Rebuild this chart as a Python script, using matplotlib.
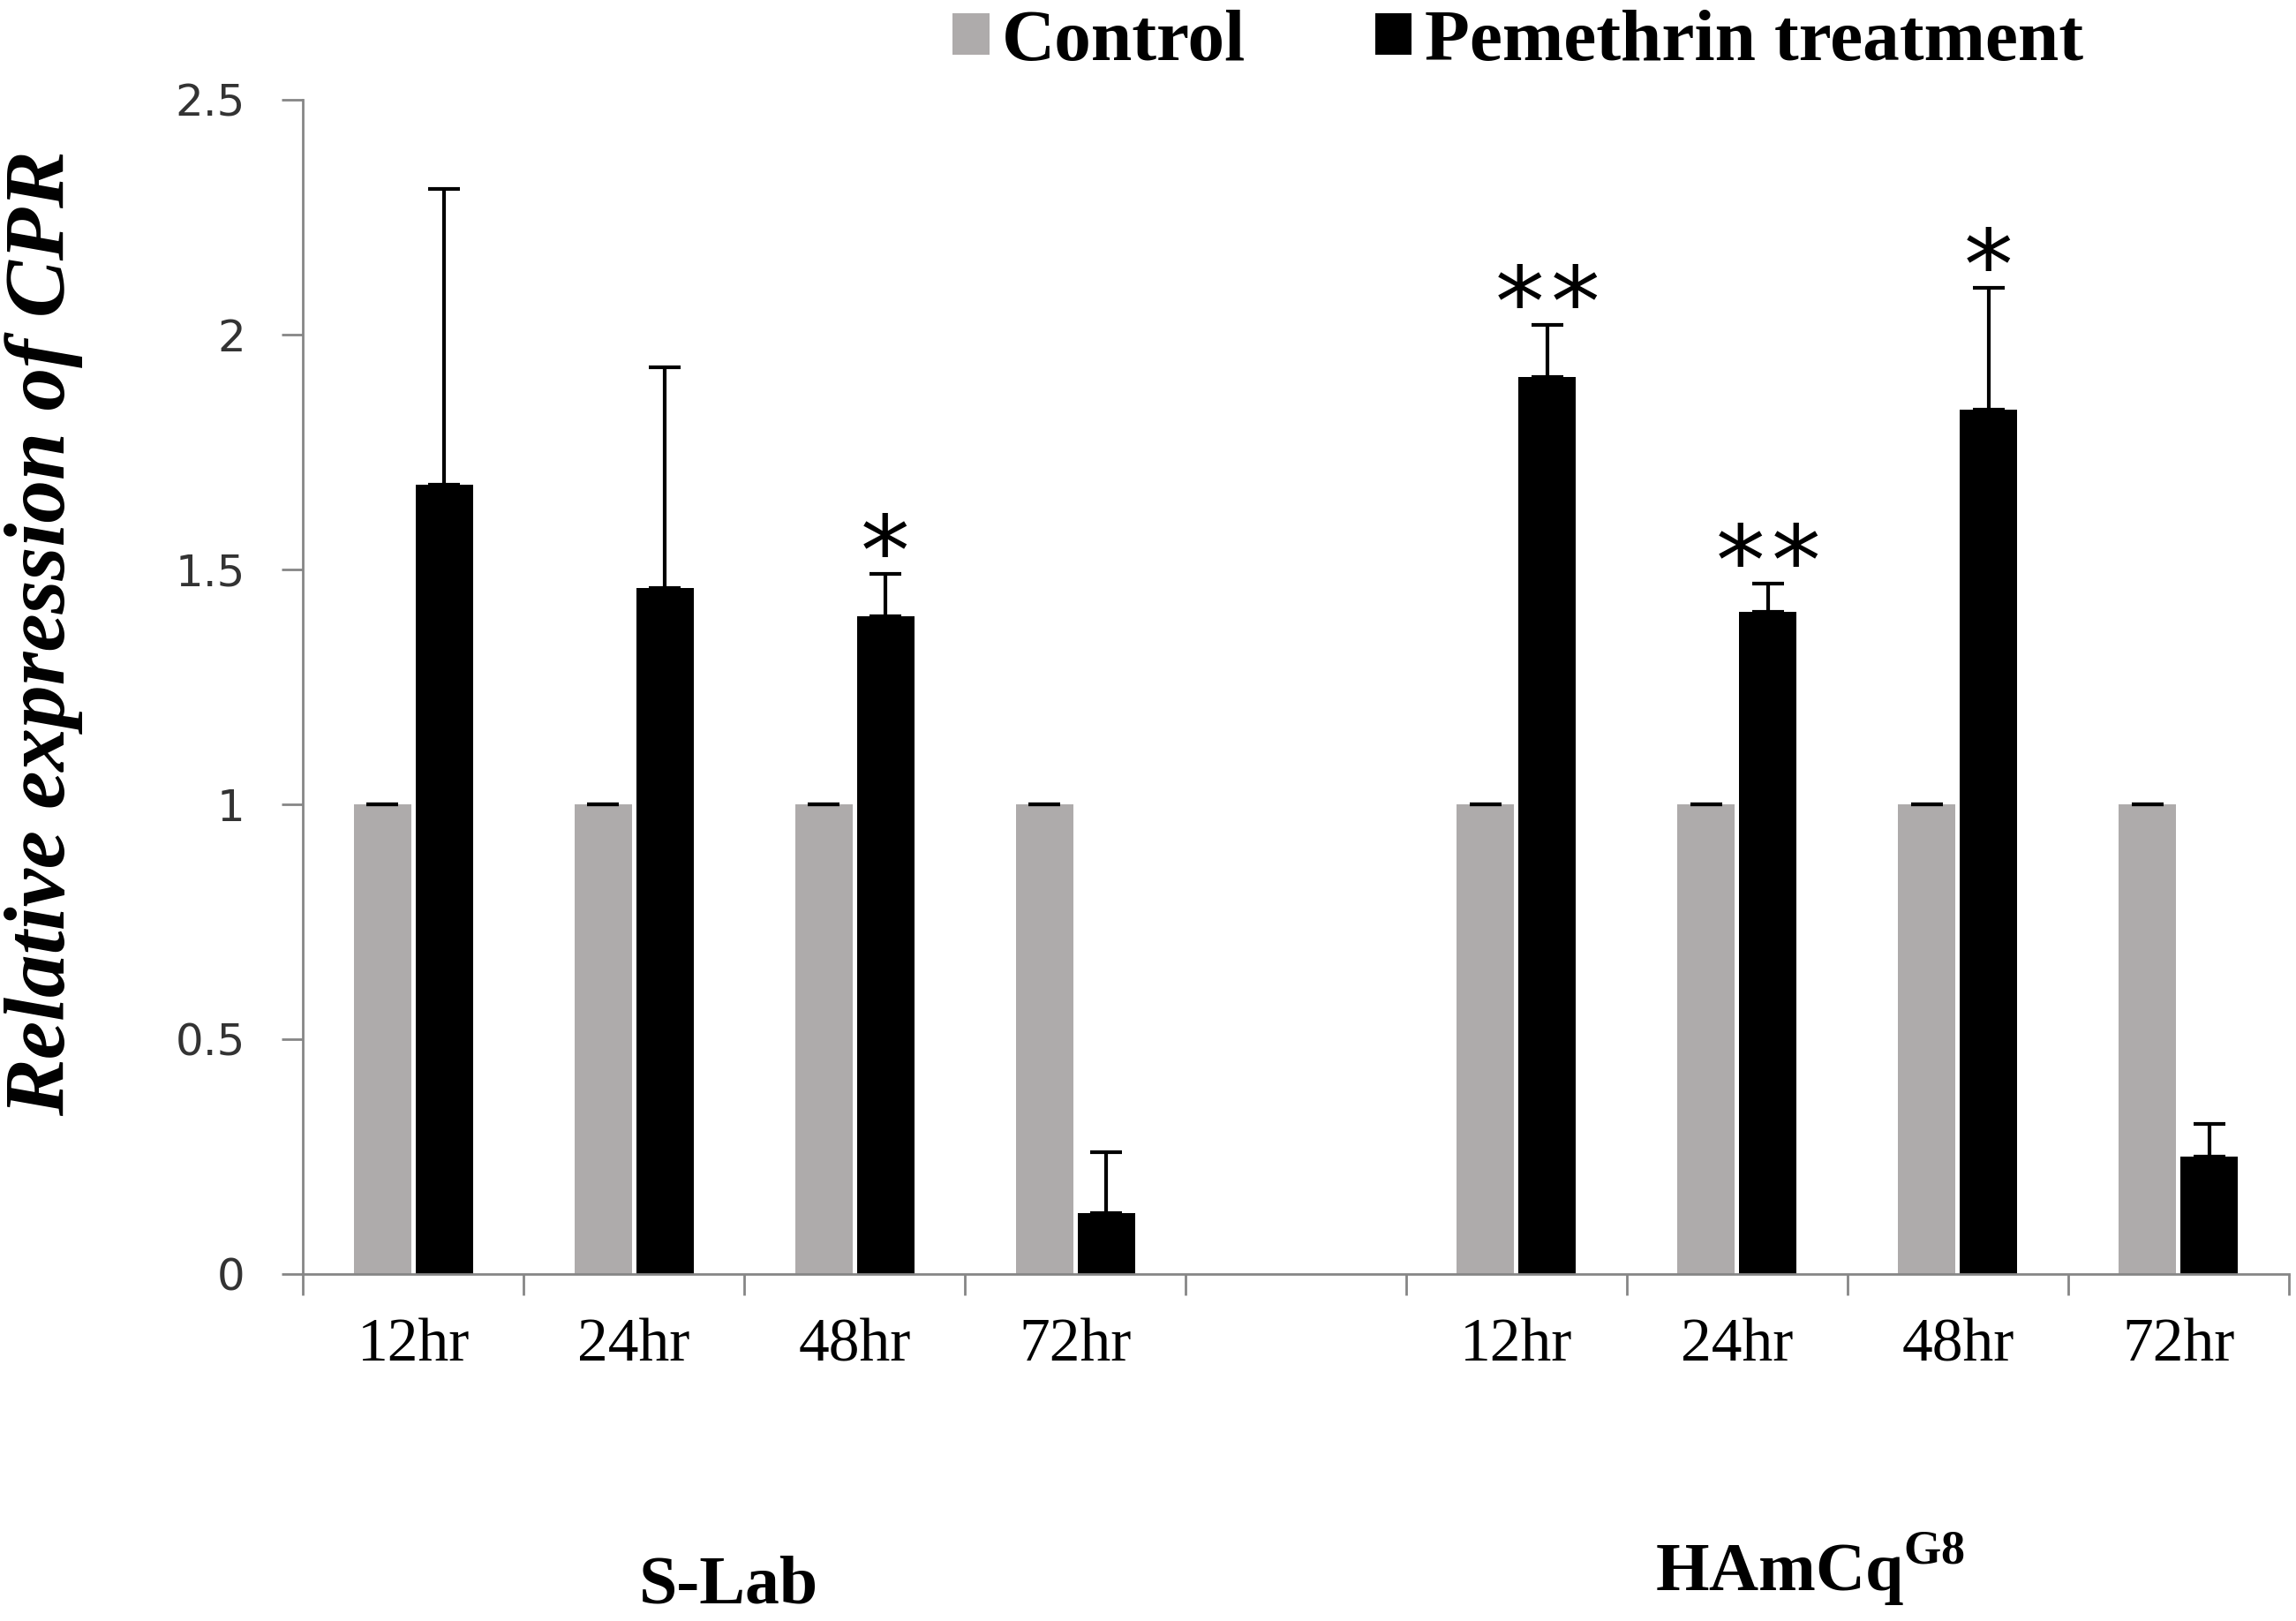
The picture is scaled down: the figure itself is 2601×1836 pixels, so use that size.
import numpy as np
import matplotlib
matplotlib.use("Agg")
import matplotlib.pyplot as plt
import matplotlib.transforms as mtransforms

# dati
timepoints = ['12hr', '24hr', '48hr', '72hr']
groups = ['S-Lab', r'HAmCq$^{\mathbf{G8}}$']
control_slab = [1.0, 1.0, 1.0, 1.0]
treat_slab = [1.68, 1.46, 1.40, 0.13]
treat_slab_err = [0.63, 0.47, 0.09, 0.13]
control_ham = [1.0, 1.0, 1.0, 1.0]
treat_ham = [1.91, 1.41, 1.84, 0.25]
treat_ham_err = [0.11, 0.06, 0.26, 0.07]
sig_slab = ['', '', '*', '']
sig_ham = ['**', '**', '*', '']

plt.rcParams['mathtext.fontset'] = 'custom'
plt.rcParams['mathtext.bf'] = 'Liberation Serif:bold'
plt.rcParams['mathtext.rm'] = 'Liberation Serif'

# posizioni: 4 + vuoto + 4
pos = np.array(list(range(4)) + list(range(5, 9)))
control = control_slab + control_ham
treat = treat_slab + treat_ham
treat_err = treat_slab_err + treat_ham_err
sig = sig_slab + sig_ham
labels = timepoints + timepoints

fig = plt.figure(figsize=(26.01, 18.36), dpi=100)
ax = fig.add_axes([0.1319, 0.2141, 0.865, 0.7244])

w = 0.26
off = 0.14
err_kw = dict(ecolor='black', elinewidth=3.0, capsize=13, capthick=3.0)
b1 = ax.bar(pos - off, control, w, color='#aeabab', label='Control',
            yerr=[0] * len(control), error_kw=err_kw)
b2 = ax.bar(pos + off, treat, w, color='black', label='Pemethrin treatment',
            yerr=[[0] * len(treat), treat_err], error_kw=err_kw)

# asterischi di significatività, uno per uno
for x, v, e, s in zip(pos, treat, treat_err, sig):
    n = len(s)
    for i in range(n):
        dx = (i - (n - 1) / 2) * 45
        ax.annotate('*', (x + off, v + e), xytext=(dx, -26), textcoords='offset points',
                    ha='center', va='bottom', fontsize=80, family='DejaVu Sans')

ax.set_xlim(-0.5, 8.5)
ax.set_ylim(0, 2.5)
ax.set_yticks([0, 0.5, 1, 1.5, 2, 2.5])
ax.set_yticklabels(['0', '0.5', '1', '1.5', '2', '2.5'])

ax.set_xticks(np.arange(-0.5, 9, 1))
ax.set_xticklabels([])
ax.set_xticks(pos, minor=True)
ax.set_xticklabels(labels, minor=True, fontsize=50, family='Liberation Serif')
ax.tick_params(axis='x', which='major', length=17, width=2, color='#868686')
ax.tick_params(axis='x', which='minor', length=0, pad=36)
ax.tick_params(axis='y', length=17, width=2, color='#868686', pad=30,
               labelsize=36, labelcolor='#333333')

for s in ['top', 'right']:
    ax.spines[s].set_visible(False)
for s in ['left', 'bottom']:
    ax.spines[s].set_color('#868686')
    ax.spines[s].set_linewidth(2)

fig.text(50 / 2601, 1 - 717 / 1836, 'Relative expression of CPR', rotation=90,
         ha='center', va='center', fontsize=70, family='Liberation Serif',
         fontweight='bold', fontstyle='italic')

# etichette dei gruppi
trans = mtransforms.blended_transform_factory(ax.transData, ax.transAxes)
ax.text(1.43, -0.28, groups[0], transform=trans, ha='center', va='baseline',
        fontsize=56, family='Liberation Serif', fontweight='bold')
ax.text(6.33, -0.27, groups[1], transform=trans, ha='center', va='baseline',
        fontsize=56, family='Liberation Serif', fontweight='bold')

fig.legend(handles=[b1, b2], loc='upper left', bbox_to_anchor=(1079 / 2601, 0.994),
           ncol=2, frameon=False, borderpad=0, borderaxespad=0,
           handlelength=0.5, handleheight=0.5, handletextpad=0.17, columnspacing=1.76,
           prop={'family': 'Liberation Serif', 'weight': 'bold', 'size': 60})

plt.savefig('out.png', dpi=100)
